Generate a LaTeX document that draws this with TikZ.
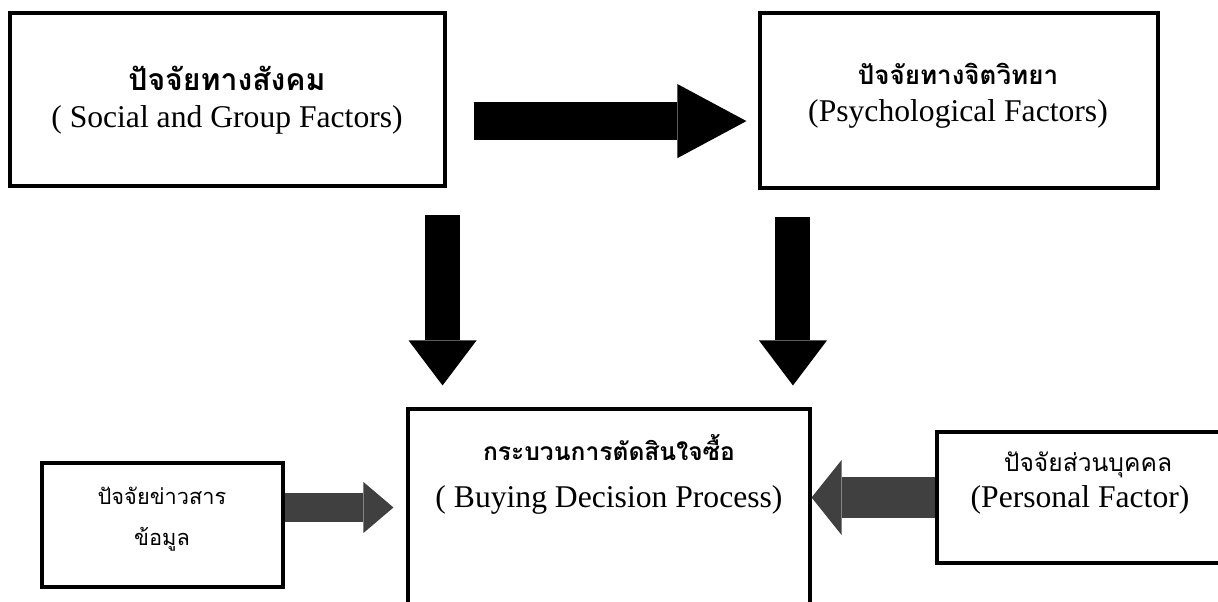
\documentclass[tikz,border=0pt]{standalone}
\usepackage{fontspec}
\setmainfont{Liberation Serif}
\newfontfamily\thaifont[Script=Thai]{Loma}
\usetikzlibrary{arrows.meta}
\definecolor{arrowgrey}{HTML}{404040}

\begin{document}
\begin{tikzpicture}[
		box/.style={draw=black, line width=2.2pt, inner sep=0pt},
		eng/.style={font=\fontsize{22.5}{27}\selectfont},
		thaib/.style={font=\thaifont\bfseries\fontsize{#1}{22}\selectfont},
		thair/.style={font=\thaifont\fontsize{#1}{22}\selectfont},
		blackarrow/.style={line width=0.95cm, -{Triangle[length=1.725cm, width=1.85cm, line width=0pt]}},
		downarrow/.style={line width=0.875cm, -{Triangle[length=1.125cm, width=1.7cm, line width=0pt]}},
		greyarrow/.style={arrowgrey, line width=0.725cm, -{Triangle[length=0.75cm, width=1.275cm, line width=0pt]}},
		widegreyarrow/.style={arrowgrey, line width=1.025cm, -{Triangle[length=0.75cm, width=1.875cm, line width=0pt]}}
	]
	\useasboundingbox (0,0) rectangle (30.45,15.05);
	\clip (0,0) rectangle (30.45,15.05);
	% boxes
	\node[box, minimum width=10.875cm, minimum height=4.325cm] (social) at (5.6875,12.5625) {};
	\node[box, minimum width=9.95cm, minimum height=4.375cm] (psych) at (23.975,12.5375) {};
	\node[box, minimum width=10.05cm, minimum height=5.825cm] (buying) at (15.225,1.9125) {};
	\node[box, minimum width=6.025cm, minimum height=3.1cm] (info) at (4.0625,1.925) {};
	\node[box, minimum width=7.825cm, minimum height=3.275cm] (personal) at (27.3375,2.6125) {};
	% texts
	\node[thaib=21.5] (socialth) at (5.675,13.1) {ปัจจัยทางสังคม};
	\node[eng] (socialen) at (5.675,12.05) {( Social and Group Factors)};
	\node[thaib=18.5] (psychth) at (23.95,13.2) {ปัจจัยทางจิตวิทยา};
	\node[eng] (psychen) at (23.95,12.2) {(Psychological Factors)};
	\node[thaib=17.5] (buyingth) at (15.225,3.85) {กระบวนการตัดสินใจซื้อ};
	\node[eng] (buyingen) at (15.225,2.56) {( Buying Decision Process)};
	\node[thair=15.5] (infoth) at (4.05,2.65) {ปัจจัยข่าวสาร};
	\node[thair=15.5] (infoth2) at (4.05,1.575) {ข้อมูล};
	\node[thair=17.5] (personalth) at (27.2,3.42) {ปัจจัยส่วนบุคคล};
	\node[eng] (personalen) at (27.0,2.56) {(Personal Factor)};
	% arrows
	\draw[blackarrow, shorten <=0.675cm, shorten >=0.3cm] ([yshift=-0.54cm]social.east) -- ([yshift=-0.54cm]social.east -| psych.west);
	\draw[downarrow, shorten <=0.675cm, shorten >=0.55cm] ([xshift=-0.1cm]social.south east) -- ([xshift=-0.1cm]social.south east |- buying.north);
	\draw[downarrow, shorten <=0.675cm, shorten >=0.55cm] ([xshift=0.8625cm]psych.south west) -- ([xshift=0.8625cm]psych.south west |- buying.north);
	\draw[greyarrow, shorten >=0.325cm] ([yshift=0.4375cm]info.east) -- ([yshift=0.4375cm]info.east -| buying.west);
	\draw[widegreyarrow] (personal.west) -- (personal.west -| buying.east);
\end{tikzpicture}
\end{document}
